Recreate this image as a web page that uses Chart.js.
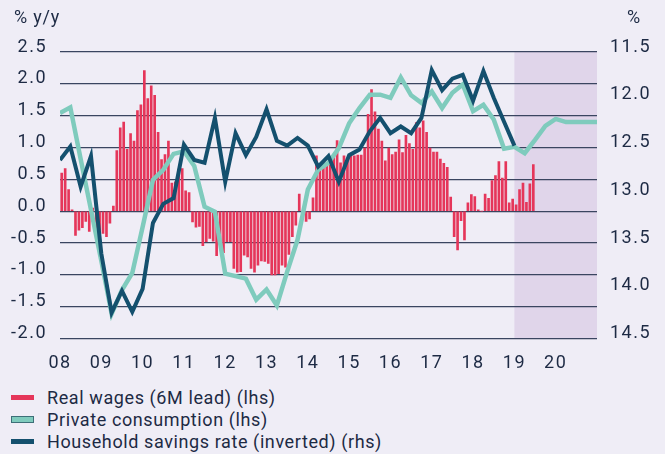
<!DOCTYPE html>
<html>
<head>
<meta charset="utf-8">
<script src="https://cdn.jsdelivr.net/npm/chart.js@4.4.0/dist/chart.umd.min.js"></script>
<style>
  html, body { margin: 0; padding: 0; background: #efedf6; }
  body { width: 665px; height: 454px; position: relative; overflow: hidden; font-family: Roboto, sans-serif; color: #1d2a44; }
  #wrap { position: absolute; left: 0; top: 0; width: 665px; height: 370px; }
  .unit { position: absolute; top: 6px; font-size: 18px; letter-spacing: 0.8px; }
  #legend { position: absolute; left: 11px; top: 386px; font-size: 18px; letter-spacing: 0.6px; }
  .row { height: 22px; display: flex; align-items: center; }
  .sw { width: 23px; height: 5px; margin-right: 13px; box-sizing: border-box; }
</style>
</head>
<body>
<div id="wrap"><canvas id="chart" width="665" height="370"></canvas></div>
<div class="unit" style="left:14px">% y/y</div>
<div class="unit" style="left:627px">%</div>
<div id="legend">
  <div class="row"><span class="sw" style="background:#e5365a"></span>Real wages (6M lead) (lhs)</div>
  <div class="row"><span class="sw" style="background:#7fcbbd;height:7px;border:1px solid #3d6f78"></span>Private consumption (lhs)</div>
  <div class="row"><span class="sw" style="background:#14506e"></span>Household savings rate (inverted) (rhs)</div>
</div>
<script>
// monthly, starting Jan 2008 (already shifted by 6M)
const realWages = [
  0.60, 0.67, 0.34, 0.02, -0.38, -0.30, -0.26, -0.16, -0.32, 0.05, -0.30, -0.56,
  -0.35, -0.40, -0.19, 0.08, 0.95, 1.31, 1.40, 0.97, 1.22, 1.10, 1.58, 1.67,
  2.21, 1.77, 1.97, 1.82, 1.24, 0.81, 0.89, 1.10, 0.44, 0.46, 0.66, 0.67,
  0.32, 0.29, -0.17, -0.25, -0.24, -0.54, -0.48, -0.43, -0.47, -0.70, -0.51, -0.65,
  -0.48, -0.48, -0.90, -0.96, -0.95, -0.69, -0.72, -0.90, -0.96, -0.85, -0.78, -0.79,
  -0.82, -1.00, -1.00, -0.98, -0.85, -0.88, -0.68, -0.40, -0.22, 0.27, 0.00, -0.16,
  -0.12, 0.21, 0.87, 0.69, 0.70, 0.75, 0.85, 0.86, 1.11, 0.76, 0.87, 0.81,
  0.89, 0.87, 0.88, 0.88, 0.99, 1.52, 1.91, 1.56, 1.29, 1.10, 0.79, 0.99,
  0.89, 0.93, 1.12, 0.92, 1.19, 1.06, 0.97, 1.39, 1.31, 1.42, 1.24, 0.99,
  0.93, 0.93, 0.82, 0.75, 0.69, 0.22, -0.40, -0.61, -0.15, -0.45, 0.13, 0.26,
  0.23, 0.02, 0.00, 0.27, 0.20, 0.48, 0.56, 0.78, 0.52, 0.78, 0.13, 0.19,
  0.10, 0.34, 0.44, 0.14, 0.43, 0.73
];

// quarterly, starting 2008 Q1
const privateConsumption = [
  1.54, 1.63, 0.82, 0.02, -0.78, -1.61, -1.24, -0.97,
  -0.25, 0.49, 0.65, 0.90, 0.94, 0.71, 0.07, -0.01,
  -0.98, -1.02, -1.06, -1.39, -1.23, -1.48, -0.95, -0.45,
  0.34, 0.65, 0.76, 0.99, 1.38, 1.62, 1.83, 1.83,
  1.78, 2.10, 1.82, 1.70, 1.88, 1.62, 1.86, 1.99,
  1.57, 1.67, 1.44, 0.98, 1.01, 0.91, 1.12, 1.34,
  1.45, 1.40, 1.40, 1.40, 1.40
];

const savingsRate = [
  12.63, 12.49, 12.91, 12.59, 13.61, 14.23, 14.00, 14.22,
  13.98, 13.29, 13.09, 13.03, 12.47, 12.63, 12.66, 12.19,
  12.86, 12.35, 12.58, 12.39, 12.10, 12.43, 12.48, 12.40,
  12.48, 12.70, 12.59, 12.86, 12.58, 12.52, 12.33, 12.19,
  12.35, 12.28, 12.35, 12.19, 11.69, 11.90, 11.78, 11.74,
  12.01, 11.70, 11.98, 12.23, 12.48
];

const yearLabels = ['08', '09', '10', '11', '12', '13', '14', '15', '16', '17', '18', '19', '20'];
const startYear = 2008;
const forecastStart = 2019;

const monthly = arr => arr.map((v, i) => ({ x: startYear + (i + 0.5) / 12, y: v }));
const quarterly = arr => arr.map((v, i) => ({ x: startYear + i / 4, y: v }));

const shading = {
  id: 'shading',
  beforeDraw(chart) {
    const { ctx, chartArea, scales } = chart;
    const x0 = scales.x.getPixelForValue(forecastStart);
    ctx.save();
    ctx.fillStyle = '#e0d5ea';
    ctx.fillRect(x0, chartArea.top, chartArea.right - x0, chartArea.bottom - chartArea.top);
    ctx.restore();
    // wider tick lettering, like the original typeface
    ctx.letterSpacing = '1.5px';
  }
};

Chart.defaults.font.family = 'Roboto, sans-serif';
Chart.defaults.font.size = 18;
Chart.defaults.color = '#1d2a44';

new Chart(document.getElementById('chart'), {
  type: 'bar',
  data: {
    datasets: [
      {
        type: 'line', label: 'Household savings rate (inverted) (rhs)',
        data: quarterly(savingsRate), yAxisID: 'y1',
        borderColor: '#14506e', borderWidth: 4, pointRadius: 0, tension: 0, order: 1,
        borderJoinStyle: 'miter'
      },
      {
        type: 'line', label: 'Private consumption (lhs)',
        data: quarterly(privateConsumption), yAxisID: 'y',
        borderColor: '#7fcbbd', borderWidth: 4.5, pointRadius: 0, tension: 0, order: 2
      },
      {
        type: 'bar', label: 'Real wages (6M lead) (lhs)',
        data: monthly(realWages), yAxisID: 'y',
        backgroundColor: '#e5365a', barThickness: 2, order: 3
      }
    ]
  },
  options: {
    responsive: false,
    animation: false,
    layout: { padding: { top: 52, left: 0, right: 0, bottom: 0 } },
    plugins: { legend: { display: false }, tooltip: { enabled: false } },
    scales: {
      x: {
        type: 'linear', min: 2008, max: 2021, offset: false,
        grid: { display: false }, border: { display: false },
        ticks: { stepSize: 1, padding: 6, maxRotation: 0, autoSkip: false,
          callback: v => yearLabels[v - startYear] || '' },
        afterFit: s => { s.height = 31.5; }
      },
      y: {
        position: 'left', min: -2, max: 2.5,
        grid: { color: '#3a4560', lineWidth: 1.2, drawTicks: false },
        border: { display: false },
        ticks: { stepSize: 0.5, padding: 13, labelOffset: -5, callback: v => v.toFixed(1) },
        afterFit: s => { s.width = 60; }
      },
      y1: {
        position: 'right', min: 11.5, max: 14.5, reverse: true,
        grid: { display: false, drawTicks: false },
        border: { display: false },
        ticks: { stepSize: 0.5, padding: 13, labelOffset: -5, callback: v => v.toFixed(1) },
        afterFit: s => { s.width = 68; }
      }
    }
  },
  plugins: [shading]
});
</script>
</body>
</html>
